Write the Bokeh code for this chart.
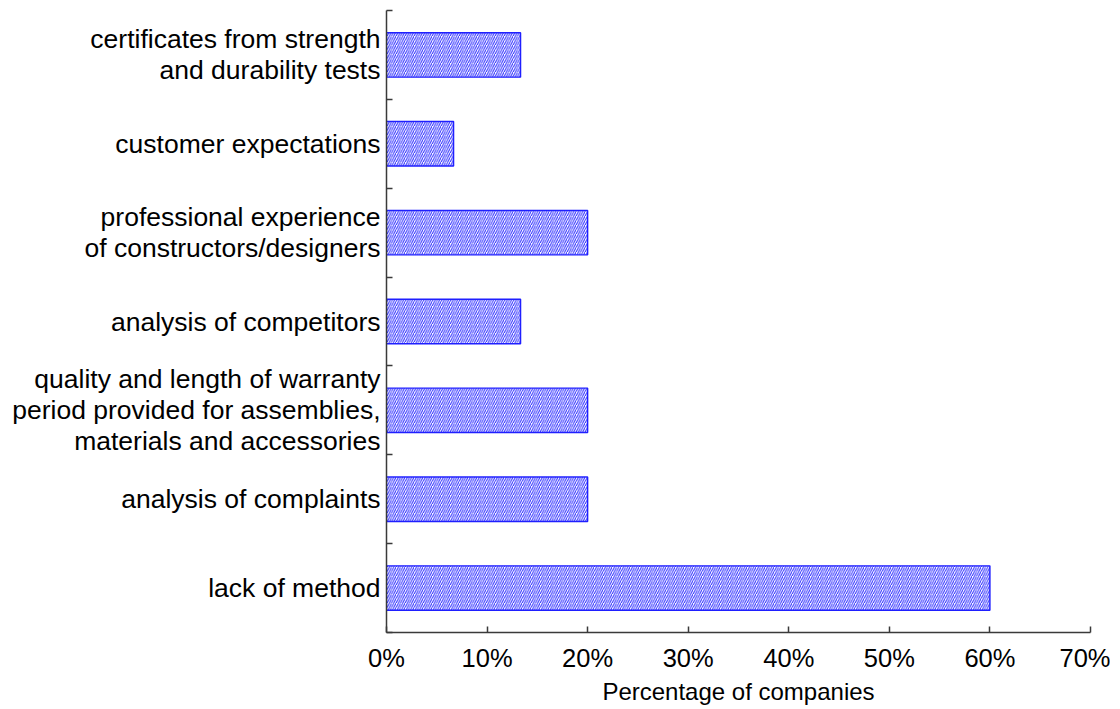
from bokeh.plotting import figure
from bokeh.models import Range1d, FixedTicker, NumeralTickFormatter, ColumnDataSource
from bokeh.embed import file_html
from bokeh.resources import INLINE

categories = [
    "lack of method",
    "analysis of complaints",
    "quality and length of warranty\nperiod provided for assemblies,\nmaterials and accessories",
    "analysis of competitors",
    "professional experience\nof constructors/designers",
    "customer expectations",
    "certificates from strength\nand durability tests",
]
shares = [0.60, 0.20, 0.20, 0.1333, 0.20, 0.0667, 0.1333]
x_ticks = [0.0, 0.1, 0.2, 0.3, 0.4, 0.5, 0.6, 0.7]
x_title = "Percentage of companies"

pos = [i + 0.5 for i in range(len(categories))]
bounds = [float(i) for i in range(len(categories) + 1)]

FONT = "Liberation Sans"
AX = "#3a3a3a"

p = figure(frame_width=704, frame_height=622, output_backend="svg", toolbar_location=None,
           x_range=Range1d(0, 0.7), y_range=Range1d(0, len(categories)),
           min_border_left=386, min_border_right=20, min_border_top=10, min_border_bottom=60)
p.outline_line_color = None
p.xgrid.visible = False
p.ygrid.visible = False
p.background_fill_color = "white"
p.border_fill_color = "white"

src = ColumnDataSource(dict(y=pos, right=shares))
p.hbar(y="y", right="right", left=0, height=0.5, source=src,
       fill_color="white", line_color="#1f1fff", line_width=1.4,
       hatch_pattern="/", hatch_color="#2a2aff", hatch_scale=4.5, hatch_weight=1.0)

xa = p.xaxis[0]
xa.ticker = FixedTicker(ticks=x_ticks, minor_ticks=[])
xa.formatter = NumeralTickFormatter(format="0%")
xa.major_tick_in = 6
xa.major_tick_out = 0
xa.minor_tick_in = 0
xa.minor_tick_out = 0
xa.axis_line_color = AX
xa.axis_line_width = 1.5
xa.major_tick_line_color = AX
xa.major_tick_line_width = 1.5
xa.major_label_text_font = FONT
xa.major_label_text_font_size = "25.5px"
xa.major_label_text_color = "black"
xa.major_label_standoff = 11
xa.axis_label = x_title
xa.axis_label_text_font = FONT
xa.axis_label_text_font_size = "24px"
xa.axis_label_text_font_style = "normal"
xa.axis_label_text_color = "black"
xa.axis_label_standoff = 3

ya = p.yaxis[0]
ya.ticker = FixedTicker(ticks=pos, minor_ticks=bounds)
ya.major_label_overrides = {pp: c for pp, c in zip(pos, categories)}
ya.major_tick_in = 0
ya.major_tick_out = 0
ya.minor_tick_in = 6
ya.minor_tick_out = 0
ya.minor_tick_line_color = AX
ya.minor_tick_line_width = 1.5
ya.axis_line_color = AX
ya.axis_line_width = 1.5
ya.major_label_text_font = FONT
ya.major_label_text_font_size = "26.5px"
ya.major_label_text_color = "black"
ya.major_label_text_line_height = 1.03
ya.major_label_standoff = 6

open("out.html", "w").write(file_html(p, INLINE))
